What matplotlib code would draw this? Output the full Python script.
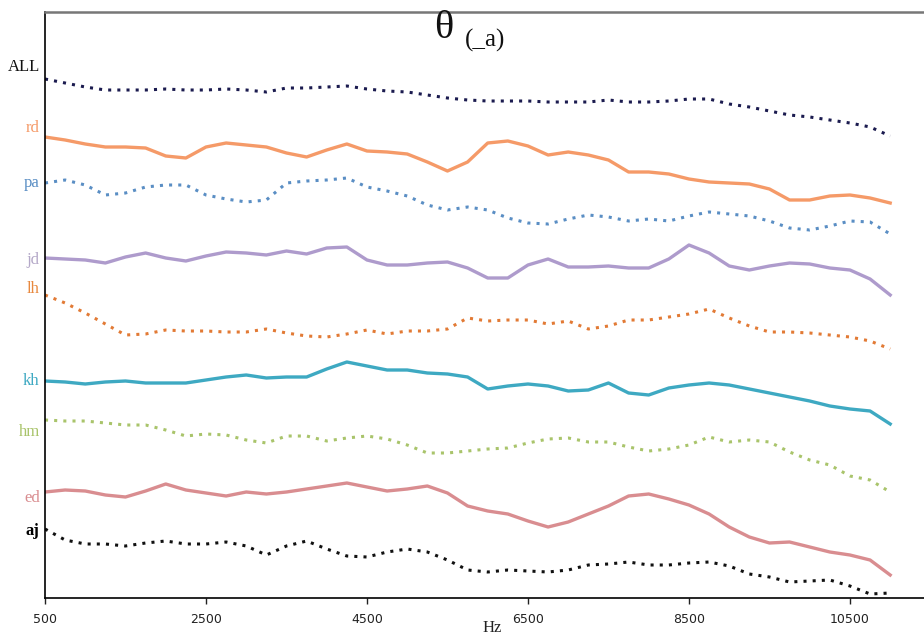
import numpy as np
import matplotlib
matplotlib.use("Agg")
import matplotlib.pyplot as plt
from matplotlib import transforms

# frequency grid (Hz)
freqs = np.arange(500, 11001, 250)

# curve levels (vertical offset, top = small)
ALL = [79, 83, 87, 90, 90, 90, 89, 90, 90, 89, 90, 92, 88, 88, 87, 86, 89, 91, 92, 95, 98, 100,
       101, 101, 101, 102, 102, 102, 100, 102, 102, 101, 99, 99, 104, 107, 111, 115, 117, 120, 123, 127, 136]
rd = [137, 140, 144, 147, 147, 148, 156, 158, 147, 143, 145, 147, 153, 157, 150, 144, 151, 152, 154, 162, 171, 162,
      143, 141, 146, 155, 152, 155, 160, 172, 172, 174, 179, 182, 183, 184, 189, 200, 200, 196, 195, 198, 203]
pa = [183, 180, 185, 195, 193, 187, 185, 185, 195, 199, 202, 200, 183, 181, 180, 178, 187, 191, 196, 205, 210, 207,
      210, 218, 223, 224, 219, 215, 217, 221, 219, 221, 216, 212, 214, 216, 221, 228, 230, 226, 221, 222, 234]
jd = [258, 259, 260, 263, 257, 253, 258, 261, 256, 252, 253, 255, 251, 254, 248, 247, 260, 265, 265, 263, 262, 268,
      278, 278, 265, 259, 267, 267, 266, 268, 268, 259, 245, 253, 266, 270, 266, 263, 264, 268, 270, 279, 295]
lh = [295, 303, 313, 324, 335, 334, 330, 331, 331, 332, 332, 329, 333, 336, 337, 334, 330, 334, 331, 331, 329, 318,
      321, 320, 320, 324, 321, 329, 326, 320, 320, 317, 314, 309, 318, 326, 332, 332, 333, 335, 337, 341, 349]
kh = [381, 382, 384, 382, 381, 383, 383, 383, 380, 377, 375, 378, 377, 377, 369, 362, 366, 370, 370, 373, 374, 377,
      389, 386, 384, 386, 391, 390, 383, 393, 395, 388, 385, 383, 385, 389, 393, 397, 401, 406, 409, 411, 424]
hm = [420, 421, 421, 423, 425, 425, 430, 436, 434, 435, 440, 443, 436, 436, 441, 438, 436, 439, 445, 453, 453, 451,
      449, 448, 443, 439, 438, 442, 442, 447, 451, 449, 445, 437, 442, 440, 442, 452, 460, 465, 476, 480, 492]
ed = [492, 490, 491, 495, 497, 491, 484, 490, 493, 496, 492, 494, 492, 489, 486, 483, 487, 491, 489, 486, 493, 506,
      511, 514, 521, 527, 522, 514, 506, 496, 494, 499, 505, 514, 527, 537, 543, 542, 547, 552, 555, 560, 575]
aj = [529, 540, 544, 544, 546, 543, 541, 544, 544, 542, 546, 555, 546, 541, 549, 556, 557, 552, 549, 552, 560, 570,
      572, 570, 571, 572, 570, 565, 564, 562, 565, 565, 563, 562, 566, 574, 577, 582, 581, 580, 586, 594, 593]

names = ["ALL", "rd", "pa", "jd", "lh", "kh", "hm", "ed", "aj"]
series = [ALL, rd, pa, jd, lh, kh, hm, ed, aj]
colors = ["#1b1b4f", "#f59a68", "#5a8ec4", "#ae9bcc", "#e27a35", "#3ea9c2", "#a9c46b", "#d98d90", "#111111"]
label_colors = ["#111111", "#f59a68", "#5a8ec4", "#b4a8c8", "#e8893f", "#3ea9c2", "#a9c46b", "#d98d90", "#000000"]
styles = ["dot", "solid", "dot", "solid", "dot", "solid", "dot", "solid", "dot"]
label_y = [67, 128, 183, 260, 289, 381, 432, 498, 531]

xticks = [500, 2500, 4500, 6500, 8500, 10500]

fig = plt.figure(figsize=(9.24, 6.37), dpi=100)
ax = fig.add_axes([45 / 924, 1 - 598 / 637, 1 - 45 / 924, (598 - 12) / 637])

for name, vals, col, st in zip(names, series, colors, styles):
    if st == "dot":
        ax.plot(freqs, vals, color=col, lw=2.2, linestyle=(0, (1, 2)))
    else:
        ax.plot(freqs, vals, color=col, lw=2.4, solid_joinstyle="round")

ax.set_xlim(500, 11420)
ax.set_ylim(598, 12)

# series names on the left, in series colour
trans = transforms.blended_transform_factory(ax.transAxes, ax.transData)
for name, ly, col in zip(names, label_y, label_colors):
    ax.text(-0.006, ly, name, transform=trans, ha="right", va="center", color=col,
            fontsize=12, family="Liberation Serif",
            fontweight="bold" if name == "aj" else "normal")

ax.set_xticks(xticks)
ax.set_xticklabels([str(t) for t in xticks])
ax.tick_params(axis="x", length=4, width=1, pad=7, labelsize=9, colors="#222222")
ax.set_yticks([])

ax.spines["right"].set_visible(False)
ax.spines["top"].set_color("#777777")
ax.spines["top"].set_linewidth(1.8)
ax.spines["left"].set_color("black")
ax.spines["left"].set_linewidth(1.2)
ax.spines["bottom"].set_color("black")
ax.spines["bottom"].set_linewidth(1.2)

# title and axis label
fig.text(444 / 924, 1 - 29 / 637, "θ", ha="center", va="center",
         fontsize=29, family="Liberation Serif", color="#111111")
fig.text(465 / 924, 1 - 47 / 637, "(_a)", ha="left", va="baseline",
         fontsize=18, family="Liberation Serif", color="#111111")
fig.text(492 / 924, 1 - 628 / 637, "Hz", ha="center", va="center",
         fontsize=12, family="Liberation Serif", color="#222222")

fig.savefig("out.png", dpi=100)
